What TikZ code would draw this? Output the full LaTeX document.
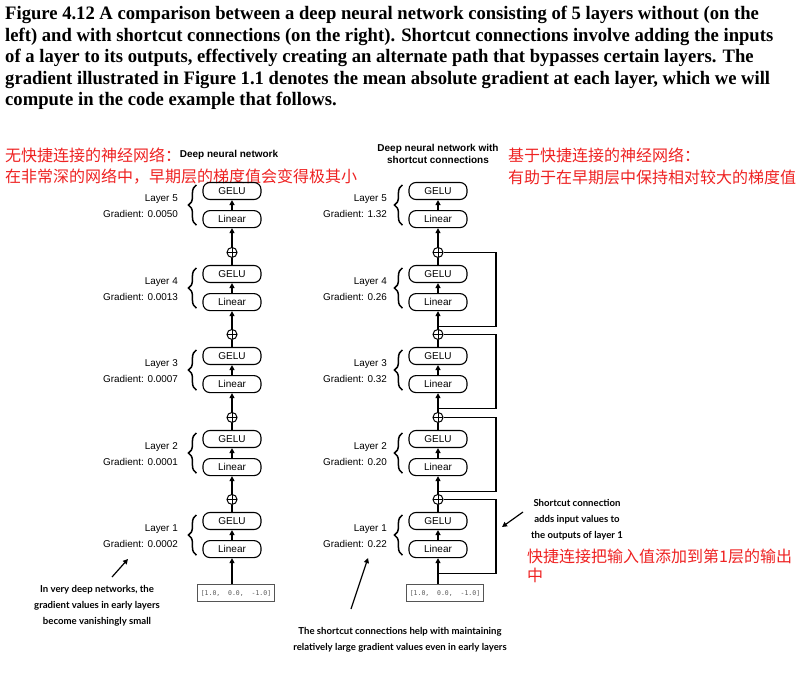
\documentclass[tikz,border=0pt]{standalone}
\usepackage{fontspec}
\setmainfont{Liberation Sans}
\newfontfamily\capfont{Liberation Serif}[FakeStretch=0.98]
\newfontfamily\cjk{Noto Sans CJK SC}
\newfontfamily\notefont{Lato}
\newfontfamily\vecfont{DejaVu Sans Mono}
\usetikzlibrary{arrows.meta,positioning,decorations.pathreplacing}
\definecolor{NRed}{HTML}{EE2222}
\definecolor{NGray}{HTML}{555555}

\begin{document}
\begin{tikzpicture}[
  x=1pt,y=-1pt,
  node distance=10pt,
  box/.style={draw,rounded corners=7pt,line width=1.1pt,minimum width=58pt,
    minimum height=17pt,inner sep=0pt,font=\fontsize{10}{12}\selectfont},
  plus/.style={draw,circle,line width=1pt,minimum size=10pt,inner sep=0pt,
    path picture={\draw[line width=0.8pt]
      (path picture bounding box.north) -- (path picture bounding box.south)
      (path picture bounding box.west) -- (path picture bounding box.east);}},
  vec/.style={draw=NGray,line width=1pt,minimum width=77pt,minimum height=17pt,
    inner sep=0pt,text=NGray,font=\vecfont\fontsize{6.5}{8}\selectfont},
  lab/.style={anchor=east,inner sep=0pt,font=\fontsize{9.9}{12}\selectfont},
  brc/.style={decorate,decoration={brace,amplitude=8pt},line width=1.5pt},
  a/.style={-{Triangle[length=5pt,width=5pt]},line width=1.2pt},
  ln/.style={line width=1.2pt},
  note/.style={align=center,inner sep=0pt,
    font=\notefont\bfseries\fontsize{9.6}{16}\selectfont},
  zh/.style={anchor=west,inner sep=0pt,text=NRed,
    font=\cjk\fontsize{16}{19}\selectfont},
  ttl/.style={align=center,inner sep=0pt,font=\bfseries\fontsize{10}{12}\selectfont}
]
  \useasboundingbox (0,0) rectangle (804,693);

  % caption
  \node[anchor=north west,inner sep=0pt,align=left,
    font=\capfont\bfseries\fontsize{19}{21.5}\selectfont] (cap) at (5,6)
    {Figure 4.12 A comparison between a deep neural network consisting of 5 layers without (on the\\
     left) and with shortcut connections (on the right). Shortcut connections involve adding the inputs\\
     of a layer to its outputs, effectively creating an alternate path that bypasses certain layers. The\\
     gradient illustrated in Figure 1.1 denotes the mean absolute gradient at each layer, which we will\\
     compute in the code example that follows.};

  % red notes
  \node[zh] (zhL1) at (5,155) {无快捷连接的神经网络：};
  \node[zh] (zhL2) at (5,177) {在非常深的网络中，早期层的梯度值会变得极其小};
  \node[zh] (zhR1) at (508,155) {基于快捷连接的神经网络：};
  \node[zh] (zhR2) at (508,177) {有助于在早期层中保持相对较大的梯度值};
  \node[zh,anchor=north west,align=left] (zhS) at (527,549)
    {快捷连接把输入值添加到第1层的输出\\中};

  \node[ttl] (ttlL) at (229,155) {Deep neural network};
  \node[ttl] (ttlR) at (438,154) {Deep neural network with\\shortcut connections};

  % layers
  \foreach \n/\y/\gl/\gr in {5/191/0.0050/1.32,4/274/0.0013/0.26,
      3/356/0.0007/0.32,2/439/0.0001/0.20,1/521/0.0002/0.22}{
    \node[box] (gL\n) at (232,\y) {GELU};
    \node[box,below=of gL\n] (lL\n) {Linear};
    \draw[a] (lL\n) -- (gL\n);
    \draw[brc] ([xshift=-6pt,yshift=3pt]lL\n.south west)
      -- ([xshift=-6pt,yshift=-3pt]gL\n.north west);
    \node[lab] (lyL\n) at (178,{\y+8}) {Layer \n};
    \node[lab] (gdL\n) at (178,{\y+23}) {Gradient: \gl};
    \node[box] (gR\n) at (438,\y) {GELU};
    \node[box,below=of gR\n] (lR\n) {Linear};
    \draw[a] (lR\n) -- (gR\n);
    \draw[brc] ([xshift=-6pt,yshift=3pt]lR\n.south west)
      -- ([xshift=-6pt,yshift=-3pt]gR\n.north west);
    \node[lab] (lyR\n) at (387,{\y+8}) {Layer \n};
    \node[lab] (gdR\n) at (387,{\y+23}) {Gradient: \gr};
  }

  \foreach \p/\q in {1/2,2/3,3/4,4/5}{
    \node[plus,above=7pt of gL\p] (pL\p) {};
    \draw[ln] (gL\p) -- (pL\p);
    \draw[a] (pL\p) -- (lL\q);
    \node[plus,above=7pt of gR\p] (pR\p) {};
    \draw[ln] (gR\p) -- (pR\p);
    \draw[a] (pR\p) -- (lR\q);
    \coordinate[below=15pt of lR\p] (jR\p);
    \draw[ln] (jR\p) -- ++(58,0) |- (pR\p);
  }

  % inputs
  \node[vec] (inL) at (236,593) {[1.0,~~0.0,~~-1.0]};
  \node[vec] (inR) at (445,593) {[1.0,~~0.0,~~-1.0]};
  \draw[a] (inL.north -| lL1) -- (lL1);
  \draw[a] (inR.north -| lR1) -- (lR1);

  % black notes
  \node[note] (noteL) at (97,606)
    {In very deep networks, the\\gradient values in early layers\\become vanishingly small};
  \node[note] (noteR) at (400,640)
    {The shortcut connections help with maintaining\\relatively large gradient values even in early layers};
  \node[note] (noteS) at (577,520)
    {Shortcut connection\\adds input values to\\the outputs of layer 1};

  \coordinate (tL) at (112,577);
  \coordinate (hL) at (128,559);
  \coordinate (tR) at (351,609);
  \coordinate (hR) at (368,558);
  \coordinate (tS) at (523,512);
  \coordinate (hS) at (502,527);
  \draw[a] (tL) -- (hL);
  \draw[a] (tR) -- (hR);
  \draw[a] (tS) -- (hS);
\end{tikzpicture}
\end{document}
